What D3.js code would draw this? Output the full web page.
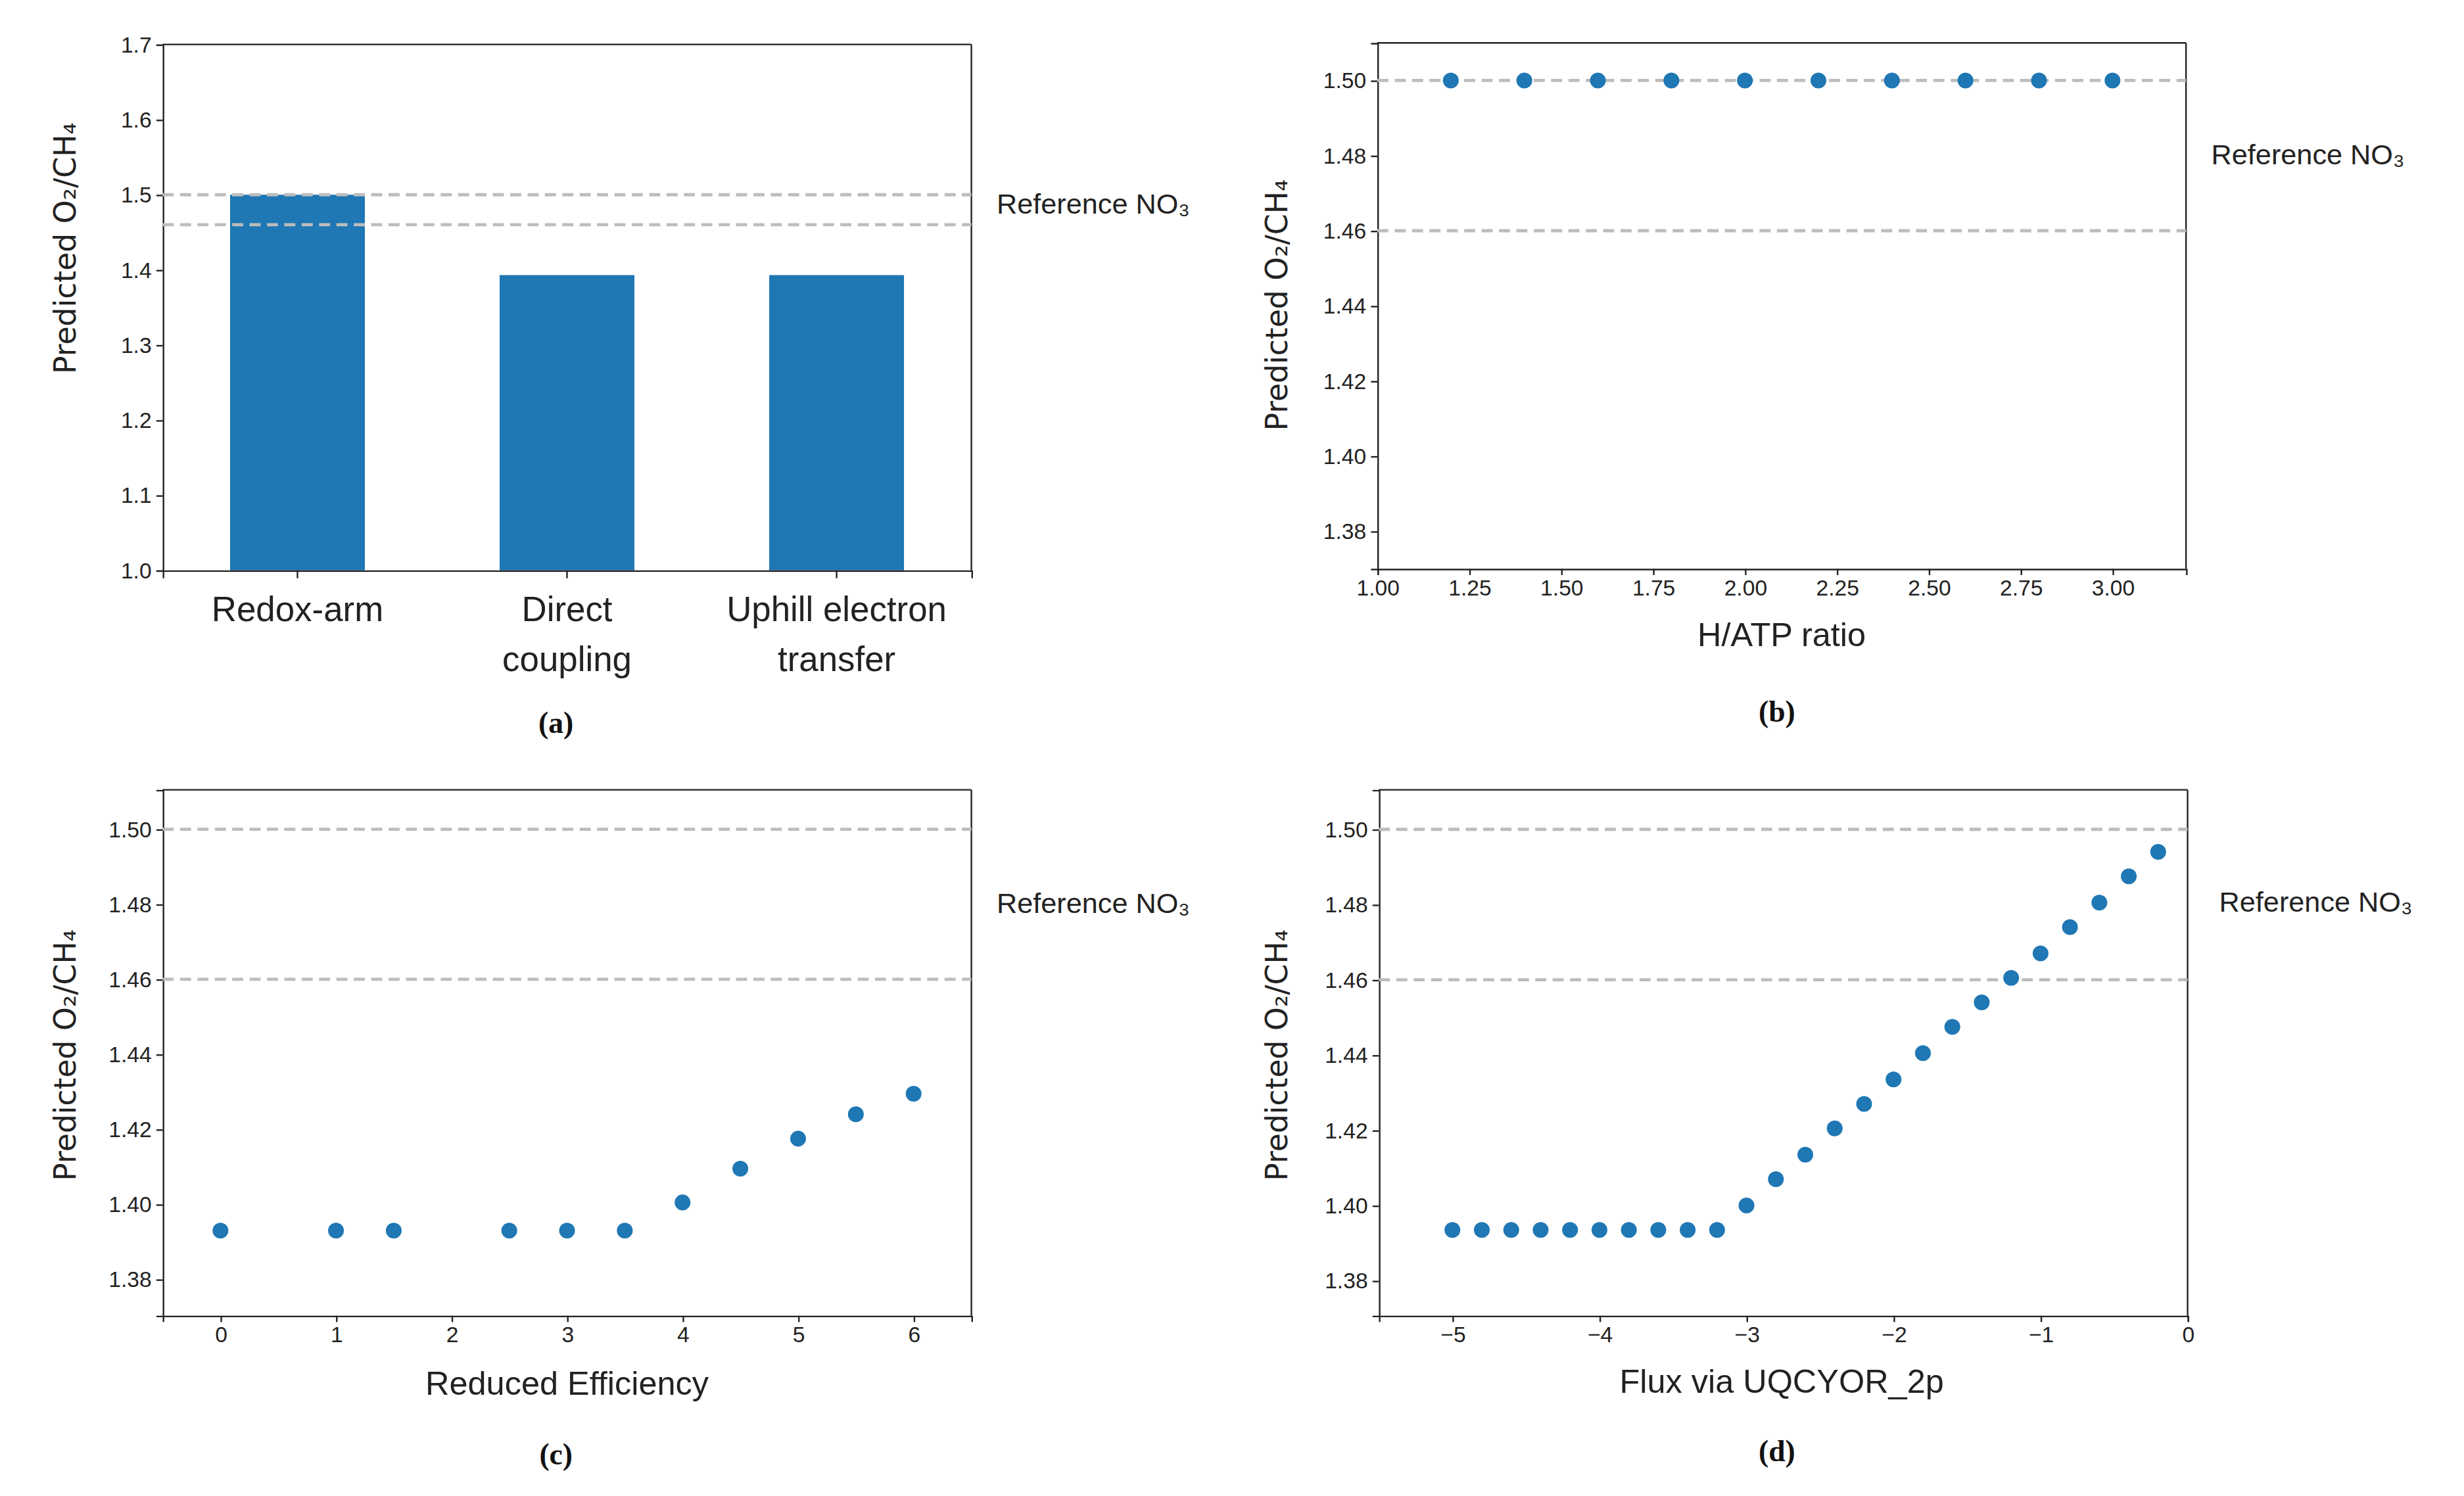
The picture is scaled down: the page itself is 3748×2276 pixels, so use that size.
<!DOCTYPE html>
<html>
<script src='https://d3js.org/d3.v7.min.js'></script>
<head>
<style>
body {margin:0; background:#fff;}
.tick text {font-family:'Liberation Sans Narrow','Liberation Sans',sans-serif; font-size:14px; fill:#222;}
.domain, .tick line {stroke:#222;}
</style>
</head>
<body>
<svg id='fig' width=3748 height=2276 viewBox='0 0 1560 947'></svg>
<script>
var blue = '#1f77b4'
var refLines = [1.50, 1.46]

// (a) bars
var mechs = ['Redox-arm','Direct coupling','Uphill electron transfer']
var mechLines = [['Redox-arm'],['Direct','coupling'],['Uphill electron','transfer']]
var mechVals = [1.50, 1.393, 1.393]
var aTicks = [1.0,1.1,1.2,1.3,1.4,1.5,1.6,1.7]

// (b) H/ATP ratio
var hatp = [1.2,1.4,1.6,1.8,2.0,2.2,2.4,2.6,2.8,3.0]
var hatpVals = [1.50,1.50,1.50,1.50,1.50,1.50,1.50,1.50,1.50,1.50]
var bTicks = [1.00,1.25,1.50,1.75,2.00,2.25,2.50,2.75,3.00]

// (c) reduced efficiency
var eff = [0,1,1.5,2.5,3,3.5,4,4.5,5,5.5,6]
var effVals = [1.393,1.393,1.393,1.393,1.393,1.393,1.4005,1.4095,1.4175,1.424,1.4295]
var cTicks = [0,1,2,3,4,5,6]

// (d) flux via UQCYOR_2p
var flux = [-5,-4.8,-4.6,-4.4,-4.2,-4,-3.8,-3.6,-3.4,-3.2,-3,-2.8,-2.6,-2.4,-2.2,-2,-1.8,-1.6,-1.4,-1.2,-1,-0.8,-0.6,-0.4,-0.2]
var fluxVals = [1.3935,1.3935,1.3935,1.3935,1.3935,1.3935,1.3935,1.3935,1.3935,1.3935,1.400,1.407,1.4135,1.4205,1.427,1.4335,1.4405,1.4475,1.454,1.4605,1.467,1.474,1.4805,1.4875,1.494]
var dTicks = [-5,-4,-3,-2,-1,0]

var yTicks2 = [1.38,1.40,1.42,1.44,1.46,1.48,1.50]

var svg = d3.select('#fig')
var W = 512, H = 333

function panel(left, top, yDomain, yTickVals, yFmt){
    var g = svg.append('g').attr('transform','translate('+left+','+top+')')
    var y = d3.scaleLinear().domain(yDomain).range([H,0])
    g.append('g').call(d3.axisLeft(y).tickValues(yTickVals).tickFormat(d3.format(yFmt)).tickSizeOuter(0).tickSize(4))
    g.append('line').attr('x1',0).attr('x2',W).attr('y1',0).attr('y2',0).attr('stroke','#222')
    g.append('line').attr('x1',W).attr('x2',W).attr('y1',0).attr('y2',H).attr('stroke','#222')
    return {g:g, y:y}
}

function refs(p){
    p.g.selectAll('.ref').data(refLines).enter().append('line')
      .attr('x1',0).attr('x2',W)
      .attr('y1',function(d){return p.y(d)}).attr('y2',function(d){return p.y(d)})
      .attr('stroke','#bdbdbd').attr('stroke-width',2).attr('stroke-dasharray','7,4')
}

function refText(x,y){
    svg.append('text').attr('x',x).attr('y',y)
      .style('font-family',"'Liberation Sans Narrow','Liberation Sans',sans-serif").style('font-size','18px').attr('fill','#222')
      .text('Reference NO₃')
}
function yLabel(x,y){
    svg.append('text').attr('transform','translate('+x+','+y+') rotate(-90)').attr('text-anchor','middle')
      .style('font-family','DejaVu Sans, sans-serif').style('font-size','19px').attr('fill','#222')
      .text('Predicted O₂/CH₄')
}
function xLabel(x,y,t){
    svg.append('text').attr('x',x).attr('y',y).attr('text-anchor','middle')
      .style('font-family',"'Liberation Sans Narrow','Liberation Sans',sans-serif").style('font-size','21px').attr('fill','#222')
      .text(t)
}
function letter(x,y,t){
    svg.append('text').attr('x',x).attr('y',y).attr('text-anchor','middle')
      .style('font-family','Liberation Serif, serif').style('font-size','19px').style('font-weight','bold').attr('fill','#111')
      .text(t)
}
function dots(p, x, xs, ys){
    p.g.selectAll('circle').data(xs).enter().append('circle')
      .attr('cx',function(d){return x(d)}).attr('cy',function(d,i){return p.y(ys[i])})
      .attr('r',5).attr('fill',blue)
}

// (a)
var pa = panel(103, 28, [1.0,1.7], aTicks, '.1f')
var xa = d3.scaleBand().domain(mechs).range([0,W]).paddingInner(0.5).paddingOuter(0.25)
pa.g.selectAll('rect').data(mechVals).enter().append('rect')
  .attr('x',function(d,i){return xa(mechs[i])}).attr('width',xa.bandwidth())
  .attr('y',function(d){return pa.y(d)}).attr('height',function(d){return H-pa.y(d)})
  .attr('fill',blue)
refs(pa)
var axa = pa.g.append('g').attr('transform','translate(0,'+H+')').call(d3.axisBottom(xa).tickSizeOuter(0).tickSize(5))
axa.selectAll('.tick text').remove()
mechs.forEach(function(m,i){
    var t = pa.g.append('text').attr('text-anchor','middle')
      .style('font-family',"'Liberation Sans Narrow','Liberation Sans',sans-serif").style('font-size','22px').attr('fill','#222')
    mechLines[i].forEach(function(s,j){
        t.append('tspan').attr('x',xa(m)+xa.bandwidth()/2).attr('y',H+32+j*32).text(s)
    })
})
yLabel(48,157); refText(631,135); letter(352,464,'(a)')

// (b)
var pb = panel(872, 27, [1.37,1.51], yTicks2, '.2f')
var xb = d3.scaleLinear().domain([1.0,3.2]).range([0,W])
pb.g.append('g').attr('transform','translate(0,'+H+')').call(d3.axisBottom(xb).tickValues(bTicks).tickFormat(d3.format('.2f')).tickSizeOuter(0).tickSize(4))
refs(pb); dots(pb, xb, hatp, hatpVals)
xLabel(1128,409,'H/ATP ratio'); yLabel(815,193); refText(1400,104); letter(1125,457,'(b)')

// (c)
var pc = panel(103, 500, [1.3703,1.5105], yTicks2, '.2f')
var xc = d3.scaleLinear().domain([-0.5,6.5]).range([0,W])
pc.g.append('g').attr('transform','translate(0,'+H+')').call(d3.axisBottom(xc).tickValues(cTicks).tickFormat(d3.format('d')).tickSizeOuter(0).tickSize(4))
refs(pc); dots(pc, xc, eff, effVals)
xLabel(359,883,'Reduced Efficiency'); yLabel(48,668); refText(631,578); letter(352,927,'(c)')

// (d)
var pd = panel(873, 500, [1.3707,1.5105], yTicks2, '.2f')
var xd = d3.scaleLinear().domain([-5.5,0]).range([0,W])
pd.g.append('g').attr('transform','translate(0,'+H+')').call(d3.axisBottom(xd).tickValues(dTicks).tickFormat(d3.format('d')).tickSizeOuter(0).tickSize(4))
refs(pd); dots(pd, xd, flux, fluxVals)
xLabel(1128,882,'Flux via UQCYOR_2p'); yLabel(815,668); refText(1405,577); letter(1125,925,'(d)')
</script>
</body>
</html>
